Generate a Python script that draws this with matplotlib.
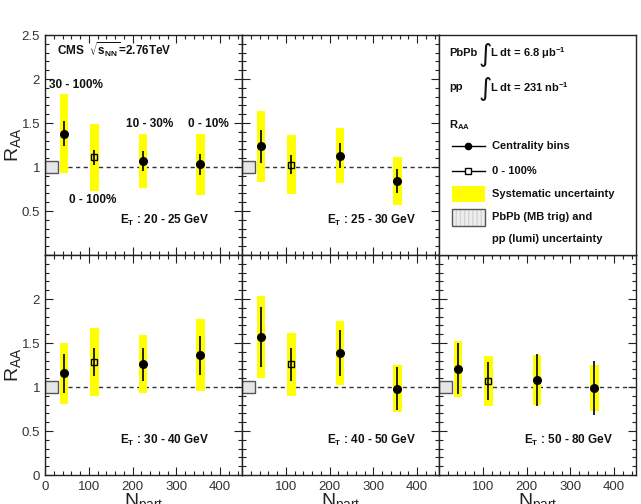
import matplotlib
matplotlib.use('Agg')
import matplotlib.pyplot as plt
from matplotlib.patches import Rectangle
from matplotlib.ticker import MultipleLocator

plt.rcParams['font.family'] = ['Liberation Sans', 'DejaVu Sans']

npart = [44, 113, 224, 355]
is_mb = [False, True, False, False]
cent_labels = ['30 - 100%', '0 - 100%', '10 - 30%', '0 - 10%']

et_bins = ['20 - 25', '25 - 30', '30 - 40', '40 - 50', '50 - 80']
raa = [
    [1.38, 1.11, 1.07, 1.03],
    [1.234, 1.027, 1.129, 0.838],
    [1.155, 1.283, 1.257, 1.362],
    [1.569, 1.257, 1.388, 0.981],
    [1.207, 1.068, 1.079, 0.992],
]
stat = [
    [0.14, 0.085, 0.11, 0.12],
    [0.19, 0.106, 0.14, 0.139],
    [0.22, 0.16, 0.19, 0.22],
    [0.34, 0.19, 0.26, 0.245],
    [0.29, 0.215, 0.30, 0.305],
]
syst = [
    [0.45, 0.38, 0.31, 0.35],
    [0.405, 0.334, 0.309, 0.27],
    [0.35, 0.39, 0.33, 0.41],
    [0.47, 0.36, 0.365, 0.265],
    [0.315, 0.28, 0.28, 0.26],
]
norm_unc = 0.068

W, H = 641, 504
fig = plt.figure(figsize=(W / 100, H / 100), dpi=100)

def px_axes(x0, y0, x1, y1):
    return fig.add_axes([x0 / W, 1 - y1 / H, (x1 - x0) / W, (y1 - y0) / H])

cols = [45, 242, 439]
pw = 197
rows = [35, 255]
ph = 220

# panel slots: (row, col)
slots = [(0, 0), (0, 1), (1, 0), (1, 1), (1, 2)]
ink = '#222222'

for i, (r, c) in enumerate(slots):
    ax = px_axes(cols[c], rows[r], cols[c] + pw, rows[r] + ph)
    ax.set_xlim(0, 450)
    ax.set_ylim(0, 2.5)
    ax.axhline(1, ls=(0, (3, 2.5)), color='#333333', lw=1, zorder=1)
    ax.add_patch(Rectangle((0, 1 - norm_unc), 30, 2 * norm_unc, facecolor='#e6e6e6',
                           edgecolor='#555555', lw=1, zorder=2))
    lo = [v - s for v, s in zip(raa[i], syst[i])]
    ax.bar(npart, [2 * s for s in syst[i]], bottom=lo, width=19, color='#ffff00', zorder=3)
    for x, y, e, mb in zip(npart, raa[i], stat[i], is_mb):
        ax.errorbar([x], [y], yerr=[e], fmt='s' if mb else 'o', ms=5 if mb else 5.5,
                    mfc='none' if mb else 'black', mec='black', mew=1, ecolor='black',
                    elinewidth=1.2, capsize=0, zorder=5)
    ax.xaxis.set_major_locator(MultipleLocator(100))
    ax.xaxis.set_minor_locator(MultipleLocator(20))
    ax.yaxis.set_major_locator(MultipleLocator(0.5))
    ax.yaxis.set_minor_locator(MultipleLocator(0.1))
    ax.tick_params(which='both', direction='in', top=True, right=True, colors=ink,
                   labelcolor='#333333', labelsize=9.5)
    ax.tick_params(which='major', length=6, width=0.8)
    ax.tick_params(which='minor', length=3, width=0.8)
    for sp in ax.spines.values():
        sp.set_color(ink)
        sp.set_linewidth(1)
    if c == 0:
        ax.set_yticks([0, 0.5, 1, 1.5, 2, 2.5])
        ax.set_yticklabels(['' if r == 0 else '0', '0.5', '1', '1.5', '2', '2.5' if r == 0 else ''])
        ax.text(-0.16, 0.5, r'$\mathregular{R_{AA}}$', transform=ax.transAxes, rotation=90,
                ha='center', va='center', fontsize=14, color='#222222')
    else:
        ax.set_yticklabels([])
    if r == 1:
        ax.set_xticks([0, 100, 200, 300, 400])
        ax.set_xticklabels(['0' if c == 0 else '', '100', '200', '300', '400'])
        ax.tick_params(axis='x', pad=4)
        ax.text(0.5, -0.078, r'$\mathregular{N_{part}}$', transform=ax.transAxes,
                ha='center', va='top', fontsize=14, color='#222222')
    else:
        ax.set_xticklabels([])
    ex = 0.605 if c == 0 else 0.66
    ax.text(ex, 0.155, r'$\mathregular{E_T}$ : ' + et_bins[i] + ' GeV', transform=ax.transAxes,
            ha='center', va='center', fontsize=8.5, fontweight='bold', color='#111111')
    if i == 0:
        ax.text(27, 2.335, r'CMS  $\mathregular{\sqrt{s_{NN}}}$=2.76TeV', ha='left', va='center',
                fontsize=8.5, fontweight='bold', color='#111111')
        lab_pos = [(71, 1.93), (110, 0.63), (239, 1.49), (373, 1.49)]
        for lab, (lx, ly) in zip(cent_labels, lab_pos):
            ax.text(lx, ly, lab, ha='center', va='center', fontsize=8.5,
                    fontweight='bold', color='#111111')

# legend panel
lg = px_axes(cols[2], rows[0], cols[2] + pw, rows[0] + ph)
lg.set_xlim(cols[2], cols[2] + pw)
lg.set_ylim(rows[0] + ph, rows[0])
lg.set_xticks([])
lg.set_yticks([])
for sp in lg.spines.values():
    sp.set_color(ink)
    sp.set_linewidth(1)

tkw = dict(fontsize=8, fontweight='bold', color='#111111', va='center', ha='left')
ikw = dict(fontsize=13, va='center', ha='center', color='#111111')
lg.text(449, 53, 'PbPb', **tkw)
lg.text(485, 55, r'$\int$', **ikw)
lg.text(490, 53, r'L dt = 6.8 $\mathregular{\mu b^{-1}}$', **tkw)
lg.text(449, 87, 'pp', **tkw)
lg.text(485, 89, r'$\int$', **ikw)
lg.text(490, 87, r'L dt = 231 $\mathregular{nb^{-1}}$', **tkw)
lg.text(449, 125, r'$\mathregular{R_{AA}}$', **tkw)
lg.plot([452, 485], [146, 146], color='black', lw=1)
lg.plot([468], [146], 'o', color='black', ms=4.5)
lg.text(492, 146, 'Centrality bins', **tkw)
lg.plot([452, 485], [171, 171], color='black', lw=1)
lg.plot([468], [171], 's', mfc='white', mec='black', ms=4.5)
lg.text(492, 171, '0 - 100%', **tkw)
lg.add_patch(Rectangle((452, 186), 33, 16, facecolor='#ffff00', edgecolor='none'))
lg.text(492, 194, 'Systematic uncertainty', **tkw)
lg.add_patch(Rectangle((452, 209), 33, 16.5, facecolor='#eeeeee', edgecolor='#d4d4d4',
                       lw=0, hatch='||||'))
lg.add_patch(Rectangle((452, 209), 33, 16.5, facecolor='none', edgecolor='#555555', lw=1))
lg.text(492, 217, 'PbPb (MB trig) and', **tkw)
lg.text(492, 239, 'pp (lumi) uncertainty', **tkw)

fig.savefig('out.png', dpi=100)
